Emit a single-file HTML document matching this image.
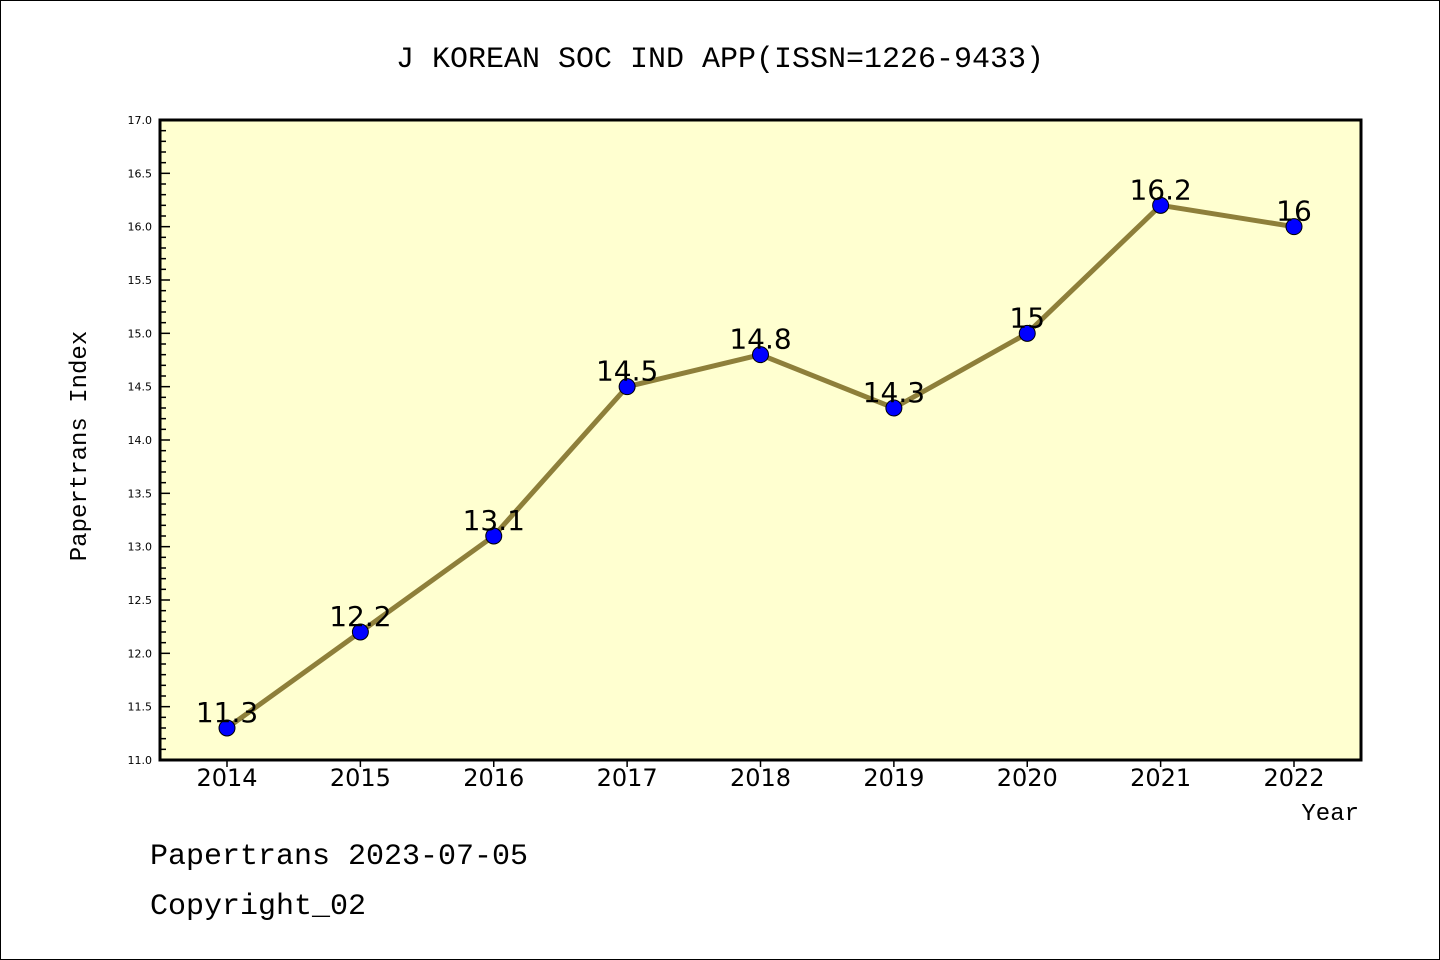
<!DOCTYPE html>
<html><head><meta charset="utf-8"><style>
body{margin:0;background:#fff}
svg{display:block;font-family:"Liberation Mono","DejaVu Sans Mono",monospace}
</style></head><body>
<svg id="c" width="1440" height="960" xmlns="http://www.w3.org/2000/svg">
<rect x="0.5" y="0.5" width="1439" height="959" fill="#fff" stroke="#000"/>
<text x="720" y="67" font-size="30" text-anchor="middle">J KOREAN SOC IND APP(ISSN=1226-9433)</text>
<rect x="160" y="120" width="1201" height="640" fill="#ffffd0"/>
<g id="yt"></g>
<g id="xt"></g>
<g id="series"></g>
<rect x="160" y="120" width="1201" height="640" fill="none" stroke="#000" stroke-width="3"/>
<text x="86" y="446" font-size="24" text-anchor="middle" transform="rotate(-90 86 446)">Papertrans Index</text>
<text x="1359" y="820" font-size="24" text-anchor="end">Year</text>
<text x="150" y="864" font-size="30">Papertrans 2023-07-05</text>
<text x="150" y="914" font-size="30">Copyright_02</text>
</svg>
<script>
const years=["2014","2015","2016","2017","2018","2019","2020","2021","2022"];
const values=[11.3,12.2,13.1,14.5,14.8,14.3,15.0,16.2,16.0];
const valueLabels=["11.3","12.2","13.1","14.5","14.8","14.3","15","16.2","16"];
const yTicks=["11.0","11.5","12.0","12.5","13.0","13.5","14.0","14.5","15.0","15.5","16.0","16.5","17.0"];
const NS="http://www.w3.org/2000/svg";
const yMin=11,yMax=17,yTopPx=120,yBotPx=760,xLeftPx=160;
const yScale=v=>yBotPx-(v-yMin)/(yMax-yMin)*(yBotPx-yTopPx);
const xScale=i=>227+i*(1294-227)/(years.length-1);
function mk(t,a,p){const e=document.createElementNS(NS,t);for(const k in a)e.setAttribute(k,a[k]);p.appendChild(e);return e;}
const yt=document.getElementById('yt');
for(let k=0;k<=60;k++){const v=yMin+k*0.1;const major=k%5===0;
 const l=mk('line',{x1:xLeftPx,x2:xLeftPx+(major?10:6),y1:yScale(v),y2:yScale(v),stroke:'#000','stroke-width':1.5},yt);
 
 }
yTicks.forEach(s=>{const t=mk('text',{x:152,y:yScale(parseFloat(s))+4,'font-size':11,'text-anchor':'end','font-family':'"DejaVu Sans",sans-serif'},yt);t.textContent=s;
 
 });
const xt=document.getElementById('xt');
years.forEach((s,i)=>{const l=mk('line',{x1:xScale(i),x2:xScale(i),y1:yBotPx,y2:yBotPx+7,stroke:'#000','stroke-width':1.5},xt);
 
 
 const t=mk('text',{x:xScale(i),y:786,'font-size':24,'text-anchor':'middle','font-family':'"DejaVu Sans",sans-serif'},xt);t.textContent=s;
 
 });
const g=document.getElementById('series');
const pl=mk('polyline',{points:values.map((v,i)=>xScale(i)+','+yScale(v)).join(' '),fill:'none',stroke:'#8e7f3a','stroke-width':5,'stroke-linejoin':'round'},g);


values.forEach((v,i)=>{const c=mk('circle',{cx:xScale(i),cy:yScale(v),r:8,fill:'#0000ff',stroke:'#000','stroke-width':1},g);
 
 
 const t=mk('text',{x:xScale(i),y:yScale(v)-6,'font-size':28,'text-anchor':'middle','font-family':'"DejaVu Sans",sans-serif'},g);t.textContent=valueLabels[i];
 
 });
</script>
</body></html>
